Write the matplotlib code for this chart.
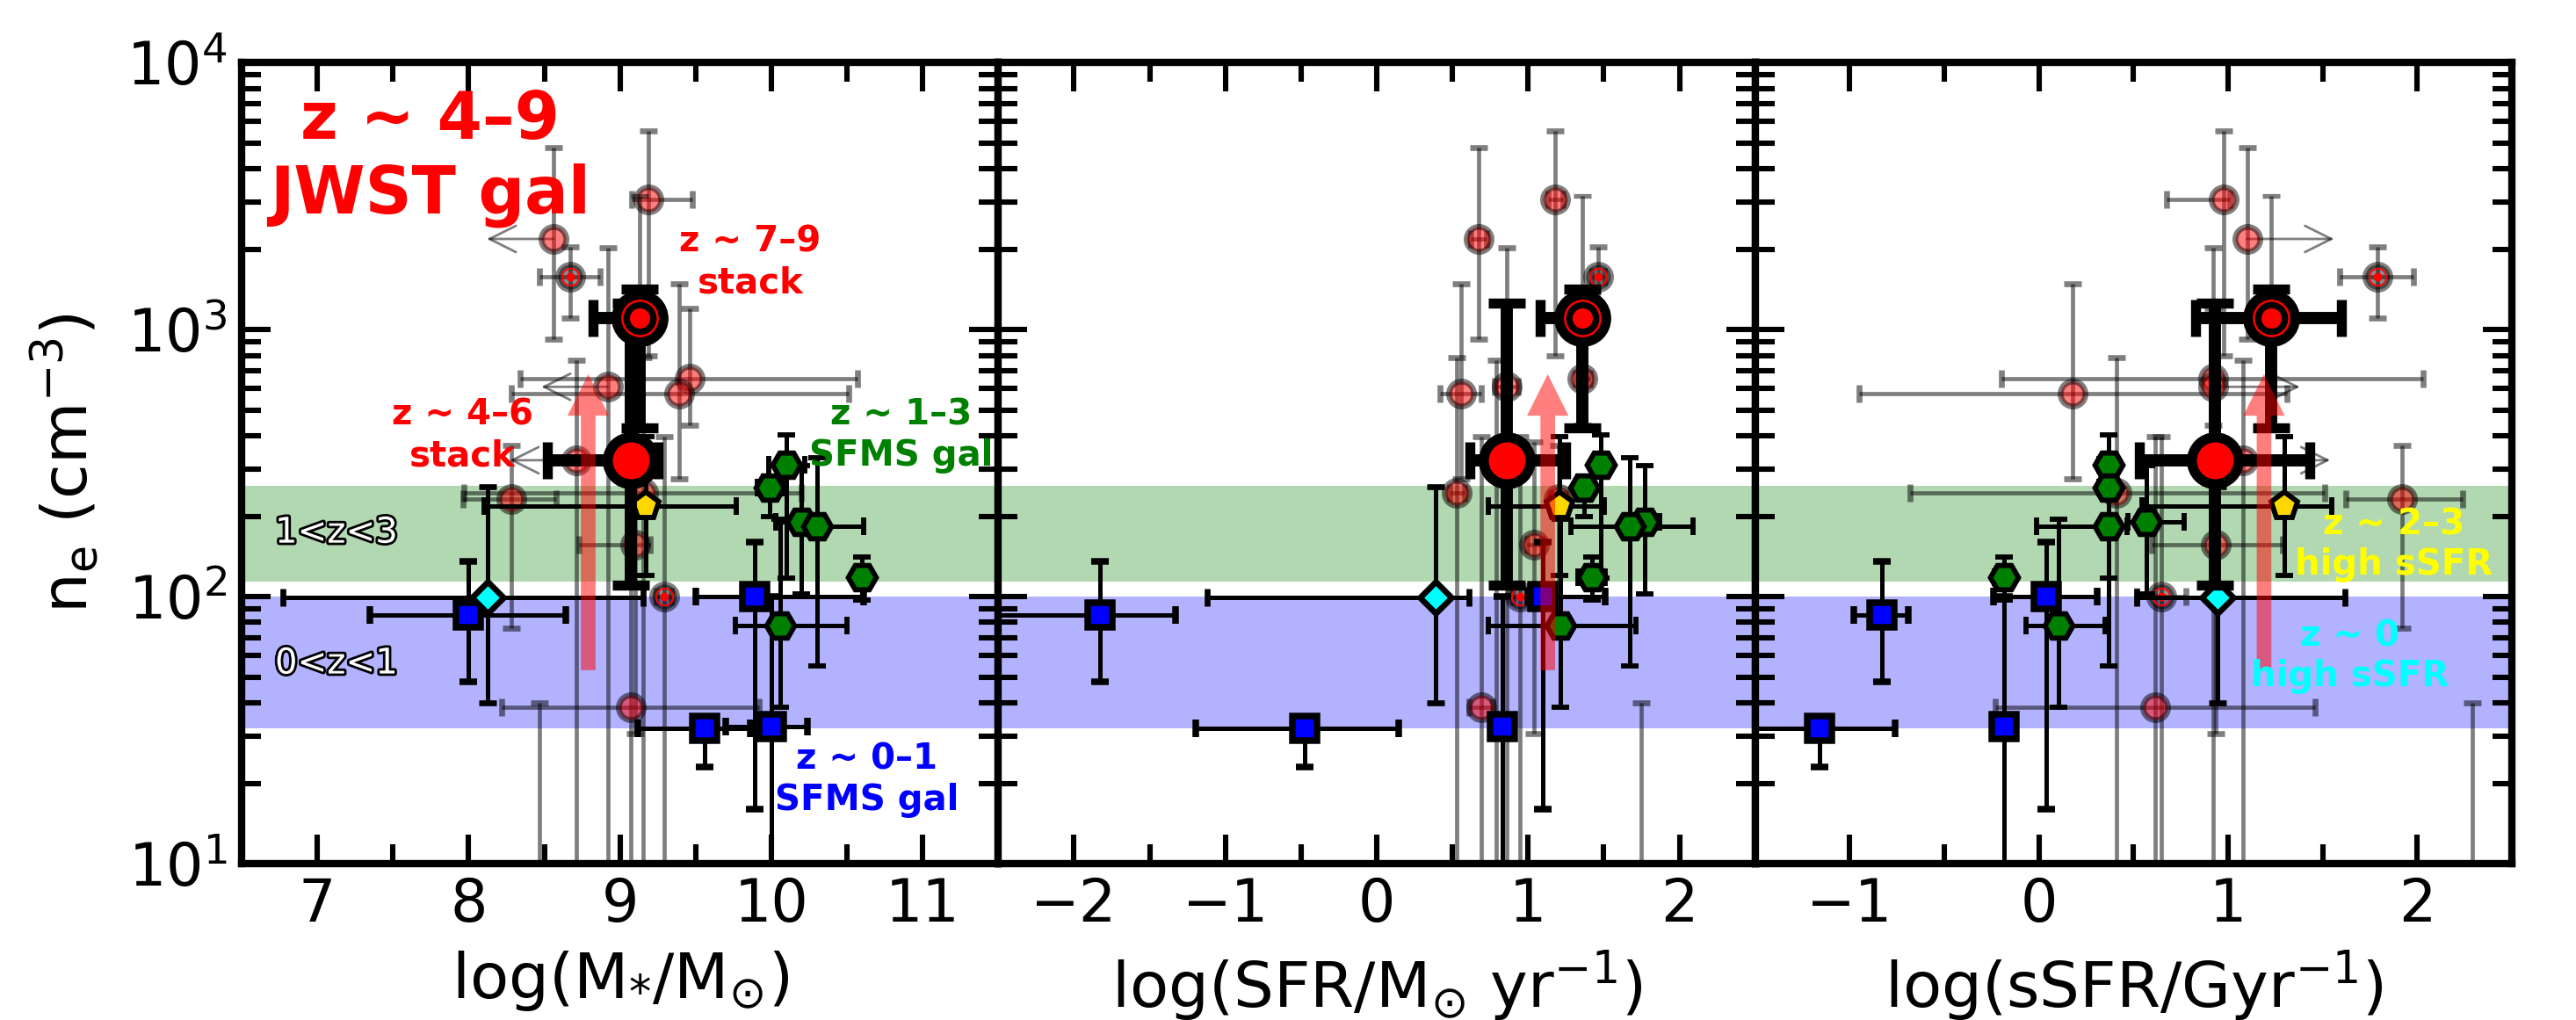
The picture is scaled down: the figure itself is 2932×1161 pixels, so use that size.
import numpy as np
import matplotlib
matplotlib.use('Agg')
import matplotlib.pyplot as plt
from matplotlib.ticker import MultipleLocator
import matplotlib.patheffects as pe

# ---------------- data ----------------
# JWST z~4-9 individual galaxies (shared n_e)
jw_ne = [3069, 2183, 1570, 656, 610, 577, 324, 245, 232, 156, 100, 38.5, 5.0]
jw_ne_hi = [5559, 4786, 2037, 1202, 2023, 1479, 767, 785, 368, 380, 398, 398, 40]
jw_ne_lo = [794, 920, 1104, 437, 3, 275, 3, 3, 76, 30.7, 3, 3, 1]
jw_z7 = [False, False, True, False, False, False, False, False, False, False, True, False, False]
jw_lim = [False, True, False, False, True, False, True, False, False, False, False, False, False]

jw_mass = [9.19, 8.56, 8.67, 9.46, 8.92, 9.39, 8.71, 9.15, 8.28, 9.10, 9.29, 9.07, 8.47]
jw_mass_lo = [0.11, 0, 0.20, 1.12, 0, 1.11, 0, 1.18, 0.32, 0.37, 0.05, 0.85, 0]
jw_mass_hi = [0.29, 0, 0.20, 1.11, 0, 1.12, 0, 1.05, 0.30, 0.10, 0.05, 0.85, 0]

jw_sfr = [1.18, 0.673, 1.461, 1.36, 0.857, 0.557, 0.79, 0.53, 1.20, 1.04, 0.948, 0.689, 1.75]
jw_sfr_lo = [0.05, 0.05, 0.04, 0.05, 0.08, 0.137, 0.05, 0.05, 0.05, 0.05, 0.05, 0.08, 0]
jw_sfr_hi = [0.05, 0.05, 0.04, 0.05, 0.08, 0.133, 0.05, 0.05, 0.05, 0.05, 0.05, 0.08, 0]

jw_ssfr = [0.977, 1.10, 1.79, 0.92, 0.92, 0.179, 1.08, 0.41, 1.92, 0.937, 0.647, 0.615, 2.29]
jw_ssfr_lo = [0.30, 0, 0.20, 1.12, 0, 1.13, 0, 1.09, 0.30, 0.34, 0.13, 0.845, 0]
jw_ssfr_hi = [0.03, 0, 0.19, 1.11, 0, 1.13, 0, 1.10, 0.32, 0.35, 0.13, 0.845, 0]

# stacks: z~4-6, z~7-9
stk_ne = [324, 1104]
stk_ne_hi = [1253, 1419]
stk_ne_lo = [110, 427]
stk79_ne_top = 3162
stk_mass = [9.07, 9.13]
stk_mass_lo = [0.55, 0.31]
stk_mass_hi = [0.18, 0.05]
stk_sfr = [0.86, 1.36]
stk_sfr_lo = [0.245, 0.28]
stk_sfr_hi = [0.39, 0.05]
stk_ssfr = [0.93, 1.227]
stk_ssfr_lo = [0.40, 0.40]
stk_ssfr_hi = [0.50, 0.37]

# z~1-3 SFMS galaxies (hexagons)
hex_ne = [312, 255, 190, 184, 118, 78]
hex_ne_hi = [402, 282, 309, 331, 141, 195]
hex_ne_lo = [117, 200, 102, 55, 97, 38.5]
hex_mass = [10.10, 9.99, 10.20, 10.30, 10.60, 10.06]
hex_mass_lo = [0.12, 0.08, 0.17, 0.10, 0.05, 0.30]
hex_mass_hi = [0.12, 0.08, 0.15, 0.31, 0.05, 0.44]
hex_sfr = [1.48, 1.37, 1.77, 1.67, 1.42, 1.215]
hex_sfr_lo = [0.05, 0.05, 0.10, 0.39, 0.09, 0.475]
hex_sfr_hi = [0.05, 0.05, 0.10, 0.42, 0.09, 0.495]
hex_ssfr = [0.368, 0.368, 0.569, 0.368, -0.183, 0.105]
hex_ssfr_lo = [0.05, 0.05, 0.10, 0.38, 0.05, 0.175]
hex_ssfr_hi = [0.05, 0.05, 0.20, 0.10, 0.05, 0.245]

# z~0-1 SFMS galaxies (squares)
sq_ne = [85, 100, 32.1, 32.6]
sq_ne_hi = [135, 160, 35.5, 100]
sq_ne_lo = [48, 16, 23, 3]
sq_mass = [8.0, 9.89, 9.56, 10.0]
sq_mass_lo = [0.65, 0.39, 0.44, 0.30]
sq_mass_hi = [0.64, 0.72, 0.30, 0.24]
sq_sfr = [-1.83, 1.10, -0.474, 0.828]
sq_sfr_lo = [0.70, 0.10, 0.72, 0.05]
sq_sfr_hi = [0.50, 0.41, 0.62, 0.05]
sq_ssfr = [-0.83, 0.04, -1.16, -0.183]
sq_ssfr_lo = [0.15, 0.28, 0.40, 0.05]
sq_ssfr_hi = [0.14, 0.27, 0.40, 0.05]

# z~0 high sSFR (diamond) and z~2-3 high sSFR (pentagon)
dia_ne, dia_ne_hi, dia_ne_lo = [99], [257], [40]
dia_mass, dia_mass_lo, dia_mass_hi = [8.125], [1.355], [1.03]
dia_sfr, dia_sfr_lo, dia_sfr_hi = [0.387], [1.51], [0.22]
dia_ssfr, dia_ssfr_lo, dia_ssfr_hi = [0.946], [0.43], [0.67]

pen_ne, pen_ne_hi, pen_ne_lo = [219], [398], [120]
pen_mass, pen_mass_lo, pen_mass_hi = [9.17], [1.07], [0.60]
pen_sfr, pen_sfr_lo, pen_sfr_hi = [1.206], [0.47], [0.30]
pen_ssfr, pen_ssfr_lo, pen_ssfr_hi = [1.296], [0.75], [0.25]

# red evolution arrows
arrow_x = [8.79, 1.13, 1.19]
arrow_ne = [53, 680]

green_band = [114, 260]
blue_band = [32, 100]

xlims = [(6.5, 11.5), (-2.5, 2.5), (-1.5, 2.5)]
xlabels = [r'log(M$_{*}$/M$_{\odot}$)', r'log(SFR/M$_{\odot}$ yr$^{-1}$)', r'log(sSFR/Gyr$^{-1}$)']

GREY = (0, 0, 0, 0.5)


def yerr(ne, hi, lo):
    ne = np.asarray(ne, float)
    return [ne - np.asarray(lo), np.asarray(hi) - ne]


def draw_panel(ax, jw, stk, hx, sq, dia, pen, ax_x, lim_dir, lim_len):
    ax.axhspan(*green_band, color='green', alpha=0.3, lw=0, zorder=0)
    ax.axhspan(*blue_band, color='blue', alpha=0.3, lw=0, zorder=0)

    # JWST individual galaxies
    x, xlo, xhi = jw
    for i in range(len(jw_ne)):
        is_lim = jw_lim[i] and lim_dir != 0
        xe = None if (is_lim or (xlo[i] == 0 and xhi[i] == 0)) else [[xlo[i]], [xhi[i]]]
        ye = [[jw_ne[i] - jw_ne_lo[i]], [jw_ne_hi[i] - jw_ne[i]]]
        face = (0, 0, 0, 0.45) if jw_z7[i] else (1, 0, 0, 0.5)
        ax.errorbar(x[i], jw_ne[i], xerr=xe, yerr=ye, fmt='o', ms=10.2, mfc=face,
                    mec=GREY, mew=2.4, ecolor=GREY, elinewidth=1.7, capsize=3.6,
                    capthick=1.9, zorder=3)
        if jw_z7[i]:
            ax.plot(x[i], jw_ne[i], 'o', ms=7.0, mfc='none', mec='red', mew=0.7, zorder=3.1)
            ax.plot(x[i], jw_ne[i], 'o', ms=3.6, mfc='red', mec='none', zorder=3.1)
        if is_lim:
            ax.annotate('', xy=(x[i] + lim_dir * lim_len, jw_ne[i]), xytext=(x[i], jw_ne[i]),
                        arrowprops=dict(arrowstyle='->', mutation_scale=27, color=GREY,
                                        lw=1.0, shrinkA=0, shrinkB=0), zorder=3)

    # comparison samples
    ebk = dict(ecolor='k', elinewidth=1.8, capsize=3.6, capthick=2.2, mec='k', zorder=4)
    x, lo, hi = hx
    ax.errorbar(x, hex_ne, xerr=[lo, hi], yerr=yerr(hex_ne, hex_ne_hi, hex_ne_lo),
                fmt='H', ms=11.5, mfc='green', mew=2.1, ls='none', **ebk)
    x, lo, hi = sq
    ax.errorbar(x, sq_ne, xerr=[lo, hi], yerr=yerr(sq_ne, sq_ne_hi, sq_ne_lo),
                fmt='s', ms=10.2, mfc='blue', mew=2.7, ls='none', **ebk)
    x, lo, hi = dia
    ax.errorbar(x, dia_ne, xerr=[lo, hi], yerr=yerr(dia_ne, dia_ne_hi, dia_ne_lo),
                fmt='D', ms=9.0, mfc='cyan', mew=2.4, ls='none', **ebk)
    x, lo, hi = pen
    ax.errorbar(x, pen_ne, xerr=[lo, hi], yerr=yerr(pen_ne, pen_ne_hi, pen_ne_lo),
                fmt='p', ms=11.5, mfc='gold', mew=2.1, ls='none', **ebk)

    # stacks
    x, lo, hi = stk
    ax.errorbar(x[1], stk_ne[1], yerr=[[0], [stk79_ne_top - stk_ne[1]]], fmt='none',
                ecolor=GREY, elinewidth=1.7, capsize=3.6, capthick=1.9, zorder=5)
    est = dict(ecolor='k', elinewidth=5.0, capsize=7.5, capthick=4.6, mec='k', mew=4.1,
               ms=19.2, zorder=6)
    ax.errorbar(x[0], stk_ne[0], xerr=[[lo[0]], [hi[0]]],
                yerr=[[stk_ne[0] - stk_ne_lo[0]], [stk_ne_hi[0] - stk_ne[0]]],
                fmt='o', mfc='red', **est)
    ax.errorbar(x[1], stk_ne[1], xerr=[[lo[1]], [hi[1]]],
                yerr=[[stk_ne[1] - stk_ne_lo[1]], [stk_ne_hi[1] - stk_ne[1]]],
                fmt='o', mfc='k', **est)
    ax.plot(x[1], stk_ne[1], 'o', ms=14.5, mfc='none', mec='red', mew=0.9, zorder=7)
    ax.plot(x[1], stk_ne[1], 'o', ms=8.3, mfc='red', mec='none', zorder=7)

    # evolution arrow
    ax.annotate('', xy=(ax_x, arrow_ne[1]), xytext=(ax_x, arrow_ne[0]),
                arrowprops=dict(arrowstyle='simple,head_length=17,head_width=17,tail_width=6',
                                mutation_scale=1, fc='red', ec='none', alpha=0.5,
                                shrinkA=0, shrinkB=0), zorder=8)


fig, axes = plt.subplots(1, 3, figsize=(2932 / 200, 1161 / 200), dpi=200, sharey=True)
fig.subplots_adjust(left=0.0938, right=0.9751, top=0.9388, bottom=0.1533, wspace=0)

draw_panel(axes[0], (jw_mass, jw_mass_lo, jw_mass_hi),
           (stk_mass, stk_mass_lo, stk_mass_hi),
           (hex_mass, hex_mass_lo, hex_mass_hi), (sq_mass, sq_mass_lo, sq_mass_hi),
           (dia_mass, dia_mass_lo, dia_mass_hi), (pen_mass, pen_mass_lo, pen_mass_hi),
           arrow_x[0], -1, 0.44)
draw_panel(axes[1], (jw_sfr, jw_sfr_lo, jw_sfr_hi),
           (stk_sfr, stk_sfr_lo, stk_sfr_hi),
           (hex_sfr, hex_sfr_lo, hex_sfr_hi), (sq_sfr, sq_sfr_lo, sq_sfr_hi),
           (dia_sfr, dia_sfr_lo, dia_sfr_hi), (pen_sfr, pen_sfr_lo, pen_sfr_hi),
           arrow_x[1], 0, 0)
draw_panel(axes[2], (jw_ssfr, jw_ssfr_lo, jw_ssfr_hi),
           (stk_ssfr, stk_ssfr_lo, stk_ssfr_hi),
           (hex_ssfr, hex_ssfr_lo, hex_ssfr_hi), (sq_ssfr, sq_ssfr_lo, sq_ssfr_hi),
           (dia_ssfr, dia_ssfr_lo, dia_ssfr_hi), (pen_ssfr, pen_ssfr_lo, pen_ssfr_hi),
           arrow_x[2], 1, 0.46)

for ax, xl, lab in zip(axes, xlims, xlabels):
    ax.set_yscale('log')
    ax.set_ylim(10, 1e4)
    ax.set_xlim(*xl)
    ax.xaxis.set_major_locator(MultipleLocator(1))
    ax.xaxis.set_minor_locator(MultipleLocator(0.5))
    ax.tick_params(which='both', direction='in', top=True, right=True)
    ax.tick_params(which='major', length=12, width=2.2, labelsize=24)
    ax.tick_params(which='minor', length=8, width=2.2)
    ax.tick_params(axis='x', which='major', pad=5)
    ax.tick_params(axis='y', which='major', pad=6)
    for s in ax.spines.values():
        s.set_linewidth(3)
    ax.set_xlabel(lab, fontsize=26, labelpad=6)

axes[0].set_ylabel(r'n$_{\rm e}$ (cm$^{-3}$)', fontsize=26, labelpad=10)

# annotations
a0, a2 = axes[0], axes[2]
bold = dict(ha='center', va='center', fontweight='bold', zorder=9)
a0.text(7.745, 4375, 'z ~ 4–9\nJWST gal', color='red', fontsize=26.5, **bold)
a0.text(9.86, 1778, 'z ~ 7–9\nstack', color='red', fontsize=14.5, **bold)
a0.text(7.96, 400, 'z ~ 4–6\nstack', color='red', fontsize=14.5, **bold)
a0.text(10.86, 400, 'z ~ 1–3\nSFMS gal', color='green', fontsize=14.5, **bold)
a0.text(10.63, 20.6, 'z ~ 0–1\nSFMS gal', color='blue', fontsize=14.5, **bold)
outline = [pe.withStroke(linewidth=2, foreground='black')]
a0.text(6.72, 173, '1<z<3', color='white', fontsize=14.5, ha='left', va='center',
        path_effects=outline, zorder=9)
a0.text(6.72, 56, '0<z<1', color='white', fontsize=14.5, ha='left', va='center',
        path_effects=outline, zorder=9)
a2.text(1.877, 156, 'z ~ 2–3\nhigh sSFR', color='yellow', fontsize=14.5, **bold)
a2.text(1.645, 59.7, 'z ~ 0\nhigh sSFR', color='cyan', fontsize=14.5, **bold)

fig.savefig('out.png', dpi=200)
